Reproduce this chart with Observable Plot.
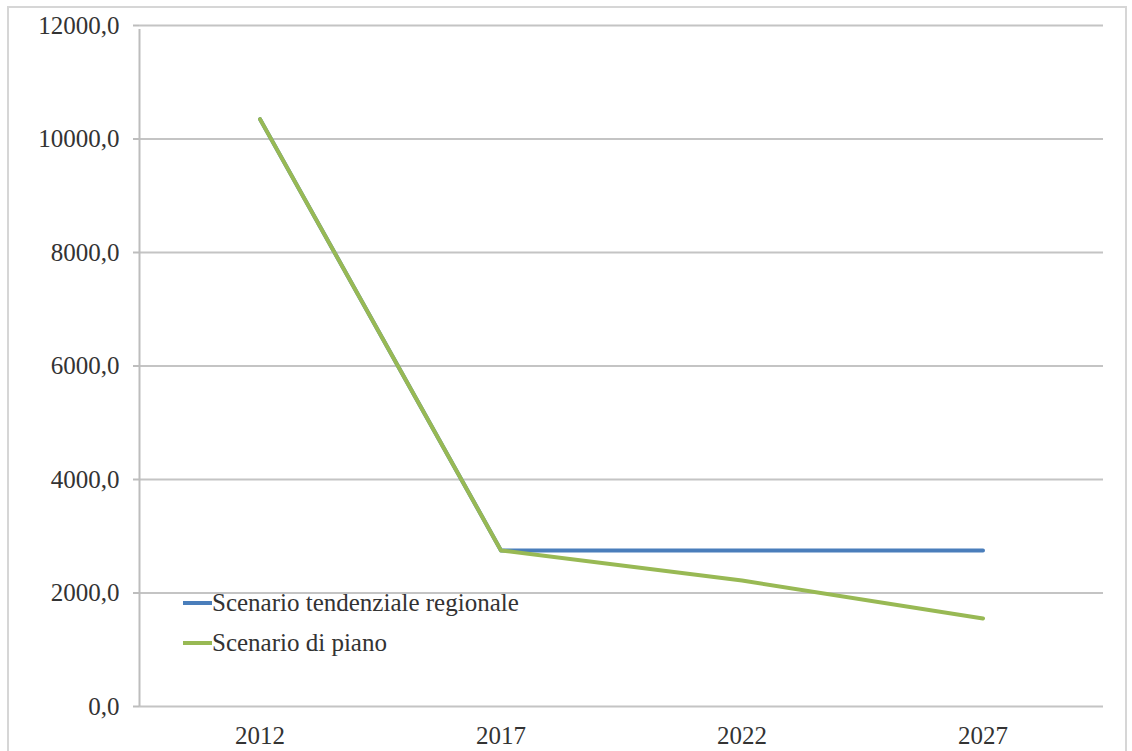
<!DOCTYPE html>
<html><head><meta charset="utf-8">
<script src="https://cdn.jsdelivr.net/npm/d3@7"></script>
<script src="https://cdn.jsdelivr.net/npm/@observablehq/plot@0.6"></script>
<style>
html,body{margin:0;padding:0;background:#fff;}
#wrap{position:relative;width:1132px;height:751px;overflow:hidden;}
#frame{position:absolute;left:7px;top:6px;width:1120px;height:800px;border:2px solid #d6d6d6;box-sizing:border-box;}
#legend{position:absolute;left:183px;top:583px;font-family:"Liberation Serif",serif;font-size:25px;color:#333;line-height:40px;}
#legend div{display:flex;align-items:center;}
#legend span.sw{display:inline-block;width:29px;height:4px;margin-right:0px;}
svg{position:absolute;left:0;top:0;}
</style></head>
<body><div id="wrap"><div id="frame"></div><div id="chart"></div><div id="legend"></div></div>
<script>
const years = ["2012","2017","2022","2027"];
const seriesNames = ["Scenario tendenziale regionale","Scenario di piano"];
const tendenziale = [10350, 2750, 2750, 2750];
const piano = [10350, 2750, 2220, 1550];
const yTicks = [0,2000,4000,6000,8000,10000,12000];
const colors = ["#4a7ebb","#98b954"];

const data = [];
years.forEach((y,i)=>data.push({year:y, value:tendenziale[i], series:seriesNames[0]}));
years.forEach((y,i)=>data.push({year:y, value:piano[i], series:seriesNames[1]}));

const fmt = d => d3.format(".1f")(d).replace(".", ",");

const chart = Plot.plot({
  width:1132, height:751,
  marginLeft:139, marginRight:29, marginTop:25, marginBottom:45,
  style:{fontFamily:"Liberation Serif, serif", fontSize:"25px", color:"#333", background:"transparent"},
  x:{type:"band", domain:years, padding:0, label:null},
  y:{domain:[0,12000], label:null},
  color:{domain:seriesNames, range:colors},
  marks:[
    Plot.gridY(yTicks,{stroke:"#c4c4c4", strokeOpacity:1, strokeWidth:2}),
    Plot.ruleX([years[0]],{stroke:"#bdbdbd", strokeWidth:2, dx:-120.5, y1:0, y2:12000, insetBottom:-4}),
    Plot.axisY({ticks:yTicks, tickFormat:fmt, tickSize:6, tickPadding:14, stroke:"#bdbdbd", strokeWidth:2, fontSize:25}),
    Plot.axisX({tickSize:0, tickPadding:20, fontSize:25}),
    Plot.line(data.filter(d=>d.series===seriesNames[0]),{x:"year", y:"value", stroke:"series", strokeWidth:4}),
    Plot.line(data.filter(d=>d.series===seriesNames[1]),{x:"year", y:"value", stroke:"series", strokeWidth:4})
  ]
});
document.getElementById("chart").appendChild(chart);

const leg = document.getElementById("legend");
seriesNames.forEach((n,i)=>{
  const d=document.createElement("div");
  d.innerHTML=`<span class="sw" style="background:${colors[i]}"></span><span>${n}</span>`;
  leg.appendChild(d);
});
</script></body></html>
